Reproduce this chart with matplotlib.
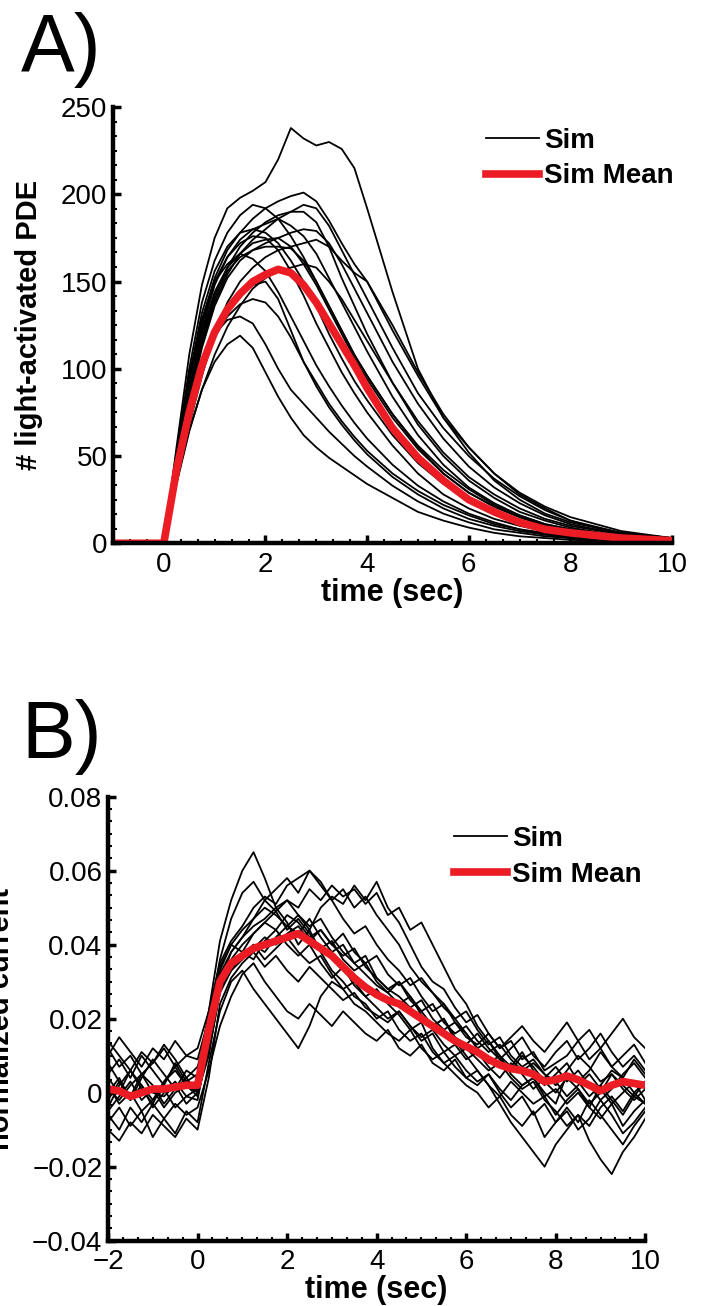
import numpy as np
import matplotlib
matplotlib.use('Agg')
import matplotlib.pyplot as plt
from matplotlib.ticker import AutoMinorLocator

plt.rcParams['font.family'] = ['Liberation Sans', 'DejaVu Sans']
plt.rcParams['font.size'] = 20

# ---- panel A: number of light-activated PDE ----
t_a = [-1, 0, 0.25, 0.5, 0.75, 1, 1.25, 1.5, 1.75, 2, 2.25, 2.5, 2.75, 3,
       3.25, 3.5, 3.75, 4, 4.5, 5, 5.5, 6, 6.5, 7, 7.5, 8, 9, 10]

pde_sims = [
    [0, 0, 55, 108, 148, 175, 192, 198, 202, 207, 220, 238, 232, 228, 230, 226, 215, 192, 144, 100, 72, 55, 40, 28, 20, 13, 5, 2],
    [0, 0, 50, 95, 128, 152, 168, 178, 186, 192, 196, 199, 201, 196, 185, 172, 160, 150, 122, 96, 72, 52, 36, 25, 17, 12, 6, 3],
    [0, 0, 52, 100, 138, 162, 178, 188, 194, 192, 186, 176, 164, 150, 136, 122, 108, 96, 74, 55, 40, 29, 21, 15, 10, 7, 3, 1],
    [0, 0, 45, 88, 122, 148, 164, 174, 180, 183, 186, 182, 176, 166, 152, 138, 124, 110, 84, 62, 45, 32, 23, 16, 11, 8, 4, 2],
    [0, 0, 40, 80, 112, 136, 152, 162, 168, 172, 175, 178, 180, 179, 172, 160, 146, 132, 104, 80, 60, 44, 32, 23, 16, 11, 5, 2],
    [0, 0, 48, 92, 125, 150, 164, 172, 176, 175, 168, 156, 142, 126, 112, 98, 86, 75, 56, 40, 28, 20, 14, 10, 7, 5, 2, 1],
    [0, 0, 50, 95, 128, 150, 160, 166, 163, 156, 144, 130, 116, 102, 90, 79, 69, 60, 45, 33, 24, 17, 12, 8, 5, 4, 2, 0],
    [0, 0, 35, 65, 88, 104, 114, 119, 112, 98, 84, 72, 62, 55, 49, 44, 39, 34, 26, 18, 13, 9, 6, 4, 3, 2, 1, 0],
    [0, 0, 38, 72, 98, 118, 132, 142, 148, 150, 140, 122, 104, 90, 78, 68, 59, 51, 38, 28, 20, 14, 10, 7, 5, 3, 1, 0],
    [0, 0, 36, 68, 96, 120, 138, 150, 158, 164, 168, 170, 172, 174, 170, 162, 155, 150, 125, 98, 74, 55, 40, 29, 21, 15, 7, 3],
    [0, 0, 44, 84, 116, 140, 156, 164, 168, 170, 170, 169, 162, 150, 136, 122, 108, 96, 74, 56, 42, 31, 22, 16, 11, 8, 4, 2],
    [0, 0, 46, 86, 118, 142, 158, 170, 178, 184, 188, 190, 190, 184, 170, 152, 136, 120, 92, 68, 50, 36, 26, 18, 13, 9, 4, 2],
    [0, 0, 40, 75, 100, 118, 130, 137, 140, 138, 130, 118, 104, 92, 80, 70, 61, 53, 40, 30, 22, 16, 11, 8, 6, 4, 2, 1],
    [0, 0, 34, 64, 88, 108, 124, 136, 146, 152, 156, 158, 160, 158, 150, 140, 128, 116, 92, 70, 52, 38, 28, 20, 14, 10, 5, 2],
    [0, 0, 50, 96, 132, 156, 170, 178, 180, 178, 172, 162, 150, 136, 120, 106, 93, 82, 62, 46, 34, 25, 18, 13, 9, 6, 3, 1],
    [0, 0, 42, 78, 104, 120, 128, 130, 126, 114, 100, 88, 80, 72, 64, 57, 50, 44, 33, 24, 17, 12, 8, 6, 4, 3, 1, 0],
    [0, 0, 42, 82, 114, 138, 154, 166, 174, 180, 186, 190, 194, 192, 182, 168, 154, 140, 112, 86, 66, 50, 37, 27, 19, 13, 6, 3],
    [0, 0, 46, 88, 120, 144, 158, 166, 172, 174, 175, 170, 160, 148, 134, 120, 106, 94, 72, 54, 40, 29, 21, 15, 10, 7, 3, 1],
]
pde_mean = [0, 0, 42, 75, 102, 121, 134, 143, 150, 154, 157, 155, 148, 138,
            126, 114, 102, 89, 66, 49, 36, 25, 18, 12, 8, 6, 3, 1.5]

# ---- panel B: normalized current (values x 1000) ----
t_b = np.arange(-2, 10.001, 0.25)

cur_sims_milli = [
    [8, 3, -2, 4, 9, 5, 1, 6, 4, 22, 41, 52, 60, 65, 58, 50, 46, 40, 44, 38, 33, 30, 26, 24, 20,
     22, 17, 14, 16, 11, 8, 10, 6, 3, 5, 1, -2, 2, 4, 0, -3, 5, 3, -1, 2, 6, 4, 0, 3],
    [-4, 2, 6, 1, -3, 3, 7, 2, 0, 12, 30, 38, 42, 47, 52, 55, 58, 54, 60, 56, 52, 55, 50, 53, 48,
     44, 40, 34, 30, 27, 24, 20, 22, 17, 13, 15, 10, 7, 9, 5, 2, 6, 10, 7, 3, 5, 1, -2, 1],
    [12, 7, 10, 5, 8, 13, 9, 4, 7, 18, 28, 33, 36, 40, 38, 42, 45, 48, 44, 50, 53, 51, 56, 52, 57,
     50, 46, 40, 34, 30, 28, 23, 19, 21, 16, 12, 14, 9, 11, 6, 8, 10, 14, 9, 12, 7, 10, 13, 8],
    [-6, -10, -4, -8, -3, -7, -11, -5, -8, 8, 22, 30, 33, 28, 24, 20, 16, 12, 18, 26, 30, 28, 24, 22, 19,
     16, 14, 17, 12, 9, 11, 7, 4, 6, 2, -1, 3, 0, -3, -1, -6, -2, 1, -4, -7, -3, -9, -5, -2],
    [2, -3, 0, -5, -2, 1, -4, -1, -2, 14, 33, 40, 44, 47, 50, 48, 45, 43, 47, 42, 38, 40, 35, 32, 29,
     27, 30, 25, 22, 24, 19, 16, 18, 14, 11, 13, 9, 6, 8, 5, 3, -1, 2, 5, 1, -3, 0, 3, -2],
    [5, 9, 4, 10, 6, 2, 8, 3, 5, 17, 34, 40, 38, 43, 46, 44, 48, 46, 42, 44, 40, 37, 39, 34, 31,
     28, 30, 26, 22, 18, 20, 14, 10, 6, 2, -3, -8, -12, -16, -20, -14, -10, -6, -9, -4, -1, -5, 0, -3],
    [-2, 3, -1, 5, 2, -3, 1, 4, 0, 10, 28, 36, 40, 43, 46, 49, 52, 50, 55, 52, 56, 53, 55, 51, 54,
     48, 50, 44, 46, 40, 34, 28, 24, 18, 14, 10, 7, 11, 6, 2, 5, 8, 3, 6, 11, 7, 4, 9, 5],
    [0, 4, -2, 2, -4, 0, 3, -1, 1, 12, 30, 35, 37, 40, 36, 39, 42, 38, 35, 37, 32, 28, 30, 26, 23,
     20, 22, 18, 15, 17, 13, 10, 12, 9, 6, 8, 4, 1, 3, -2, -5, -9, -6, -13, -18, -22, -16, -12, -7],
    [14, 10, 6, 11, 8, 12, 7, 10, 9, 20, 36, 47, 54, 57, 52, 49, 44, 47, 43, 39, 41, 36, 33, 35, 30,
     27, 24, 26, 21, 18, 20, 15, 13, 16, 12, 9, 12, 15, 10, 7, 11, 14, 9, 12, 16, 11, 7, 10, 6],
    [-8, -4, -9, -5, -12, -7, -3, -6, -4, 6, 18, 26, 32, 35, 30, 26, 22, 20, 24, 21, 18, 22, 19, 16, 14,
     17, 12, 10, 13, 8, 6, 9, 4, 2, 5, 0, -4, -1, -6, -3, -8, -5, -10, -7, -2, -6, -11, -8, -4],
    [4, 0, 6, 2, -2, 3, 6, 2, 3, 15, 32, 38, 42, 45, 47, 50, 52, 48, 45, 47, 42, 38, 35, 37, 31,
     28, 26, 23, 25, 20, 17, 19, 15, 13, 16, 12, 15, 18, 14, 11, 15, 19, 14, 17, 12, 16, 20, 15, 12],
    [-5, -1, 3, -2, 1, -4, 0, 2, -1, 12, 28, 34, 37, 39, 42, 40, 43, 45, 41, 44, 40, 43, 38, 35, 37,
     32, 29, 31, 26, 22, 24, 19, 16, 12, 8, 10, 5, 2, 4, -1, 1, -3, 0, -4, 2, -2, -6, -1, -3],
    [10, 15, 11, 7, 12, 9, 14, 10, 12, 22, 35, 41, 45, 50, 53, 51, 56, 58, 60, 57, 52, 47, 43, 45, 40,
     36, 33, 29, 31, 27, 23, 20, 16, 12, 14, 9, 6, 10, 7, 3, 0, 4, 1, -3, 0, 5, 2, -1, 3],
    [1, -2, 2, 5, 0, -1, 2, -3, 0, 11, 27, 33, 38, 36, 41, 44, 40, 37, 40, 35, 31, 34, 29, 26, 28,
     24, 21, 17, 19, 12, 8, 5, 2, 0, -4, -1, -6, -9, -5, -12, -8, -4, -8, -2, -6, -10, -14, -9, -5],
    [-10, -13, -8, -11, -6, -9, -12, -7, -10, 4, 24, 31, 35, 38, 34, 37, 33, 30, 34, 31, 28, 25, 27, 23, 21,
     19, 22, 18, 14, 16, 11, 13, 9, 11, 7, 4, 8, 5, 1, 4, 7, 3, 6, 2, -2, 1, 5, 8, 4],
]
cur_mean_milli = [1, 0.5, -1, 0, 1, 1, 1.5, 2, 2, 17, 30, 35, 37, 39, 40, 41, 42, 43, 41, 39,
                  37, 34, 31, 28.5, 26.5, 25, 24, 22, 20, 18, 16, 14, 12.5, 11, 9, 7.5, 6.5, 6,
                  5, 3, 3.5, 4.5, 3.5, 2, 0.5, 2, 3, 2.5, 2]

fig = plt.figure(figsize=(7.06, 13.06), dpi=100)
ax1 = fig.add_axes([0.160, 0.584, 0.792, 0.334])
ax2 = fig.add_axes([0.153, 0.050, 0.761, 0.340])


def style_axis(ax):
    for side in ['top', 'right']:
        ax.spines[side].set_visible(False)
    for side in ['left', 'bottom']:
        ax.spines[side].set_linewidth(3.2)
    ax.tick_params(which='major', direction='in', length=6, width=2.5, labelsize=20, pad=4)
    ax.tick_params(axis='x', which='major', pad=6)
    ax.tick_params(which='minor', direction='in', length=3, width=1.5)
    ax.xaxis.set_minor_locator(AutoMinorLocator(6))
    ax.yaxis.set_minor_locator(AutoMinorLocator(6))


legend_font = {'weight': 'bold', 'size': 20}

# panel A
for i, y in enumerate(pde_sims):
    ax1.plot(t_a, y, color='black', linewidth=1.3, label='Sim' if i == 0 else None)
ax1.plot(t_a, pde_mean, color='#ec1c24', linewidth=5.5, label='Sim Mean')
ax1.set_xlim(-1, 10)
ax1.set_ylim(0, 250)
ax1.set_xticks([0, 2, 4, 6, 8, 10])
ax1.set_yticks([0, 50, 100, 150, 200, 250])
style_axis(ax1)
ax1.set_xlabel('time (sec)', fontweight='bold', fontsize=22, labelpad=0)
ax1.set_ylabel('# light-activated PDE', fontweight='bold', fontsize=21)
ax1.yaxis.set_label_coords(-0.125, 0.5)
ax1.legend(loc='upper left', bbox_to_anchor=(0.642, 0.985), frameon=False,
           prop=legend_font, handlelength=1.9, handletextpad=0.2,
           labelspacing=0.35, borderpad=0)

# panel B
cur_sims = [np.array(c) / 1000.0 for c in cur_sims_milli]
cur_mean = np.array(cur_mean_milli) / 1000.0
for i, y in enumerate(cur_sims):
    ax2.plot(t_b, y, color='black', linewidth=1.3, label='Sim' if i == 0 else None)
ax2.plot(t_b, cur_mean, color='#ec1c24', linewidth=5.5, label='Sim Mean')
ax2.set_xlim(-2, 10)
ax2.set_ylim(-0.04, 0.08)
ax2.set_xticks([-2, 0, 2, 4, 6, 8, 10])
ax2.set_yticks([-0.04, -0.02, 0, 0.02, 0.04, 0.06, 0.08])
ax2.set_xticklabels(['\u22122', '0', '2', '4', '6', '8', '10'])
ax2.set_yticklabels(['\u22120.04', '\u22120.02', '0', '0.02', '0.04', '0.06', '0.08'])
style_axis(ax2)
ax2.set_xlabel('time (sec)', fontweight='bold', fontsize=22, labelpad=0)
ax2.set_ylabel('normalized current', fontweight='bold', fontsize=21)
ax2.yaxis.set_label_coords(-0.173, 0.5)
ax2.legend(loc='upper left', bbox_to_anchor=(0.618, 0.965), frameon=False,
           prop=legend_font, handlelength=1.9, handletextpad=0.2,
           labelspacing=0.35, borderpad=0)

fig.text(0.03, 0.962, 'A)', fontsize=58, va='center', ha='left')
fig.text(0.03, 0.436, 'B)', fontsize=58, va='center', ha='left')

fig.savefig('out.png', dpi=100)
